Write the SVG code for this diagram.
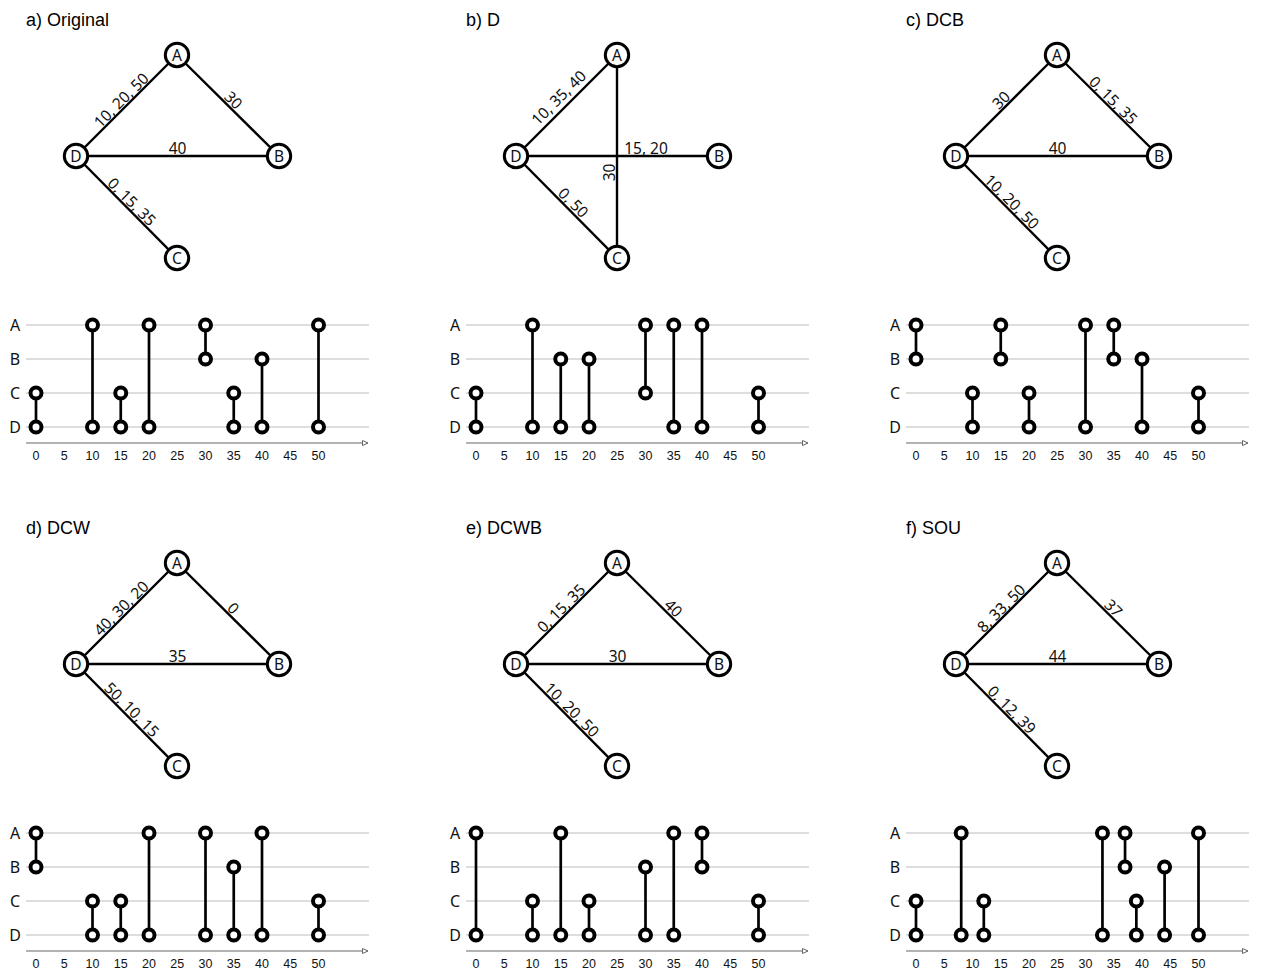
<svg xmlns="http://www.w3.org/2000/svg" width="1262" height="972" viewBox="0 0 1262 972">
<defs>
<style>
.title{font-family:"Liberation Sans",Arial,sans-serif;font-size:18px;fill:#000}
.edge{stroke:#000;stroke-width:2.4;fill:none}
.el{font-family:"Noto Sans","Open Sans",sans-serif;font-size:15.5px;fill:#111;text-anchor:middle}
.node circle{fill:#fff;stroke:#000;stroke-width:3}
.node text{font-family:"Noto Sans","Open Sans",sans-serif;font-size:15.5px;fill:#111;text-anchor:middle}
.row{stroke:#bdbdbd;stroke-width:1}
.rl{font-family:"Noto Sans","Open Sans",sans-serif;font-size:16px;fill:#111;text-anchor:middle}
.axis{stroke:#666;stroke-width:1.2;fill:none}
.tk{font-family:"Liberation Sans",Arial,sans-serif;font-size:12.5px;fill:#111;text-anchor:middle}
.stick{stroke:#000;stroke-width:2.7}
.dot{fill:#fff;stroke:#000;stroke-width:4}
</style>
<marker id="arr" markerWidth="8" markerHeight="8" refX="6" refY="3" orient="auto" markerUnits="userSpaceOnUse">
<path d="M0.5,0.5 L6,3 L0.5,5.5 Z" fill="#fff" stroke="#666" stroke-width="1"/>
</marker>
<g id="tlbase">
<line class="row" x1="26" y1="325" x2="369" y2="325"/>
<line class="row" x1="26" y1="359" x2="369" y2="359"/>
<line class="row" x1="26" y1="393" x2="369" y2="393"/>
<line class="row" x1="26" y1="427" x2="369" y2="427"/>
<text class="rl" x="15" y="331">A</text>
<text class="rl" x="15" y="365">B</text>
<text class="rl" x="15" y="399">C</text>
<text class="rl" x="15" y="433">D</text>
<line class="axis" x1="26" y1="443" x2="368" y2="443" marker-end="url(#arr)"/>
<text class="tk" x="36" y="460">0</text>
<text class="tk" x="64.25" y="460">5</text>
<text class="tk" x="92.5" y="460">10</text>
<text class="tk" x="120.75" y="460">15</text>
<text class="tk" x="149" y="460">20</text>
<text class="tk" x="177.25" y="460">25</text>
<text class="tk" x="205.5" y="460">30</text>
<text class="tk" x="233.75" y="460">35</text>
<text class="tk" x="262" y="460">40</text>
<text class="tk" x="290.25" y="460">45</text>
<text class="tk" x="318.5" y="460">50</text>
</g>
</defs>

<!-- Panel a -->
<g id="panel-a">
<text class="title" x="26" y="26">a) Original</text>
<g id="a-connectors">
<line class="edge" x1="76" y1="156" x2="177" y2="55"/>
<line class="edge" x1="177" y1="55" x2="279" y2="156"/>
<line class="edge" x1="76" y1="156" x2="279" y2="156"/>
<line class="edge" x1="76" y1="156" x2="177" y2="258"/>
<text class="el" transform="translate(126.5,105.5) rotate(-45)" y="-2">10, 20, 50</text>
<text class="el" transform="translate(228,105.5) rotate(45)" y="-2">30</text>
<text class="el" x="177.5" y="154">40</text>
<text class="el" transform="translate(126.5,207) rotate(45)" y="-2">0, 15, 35</text>
</g>
<g id="a-A" class="node"><circle cx="177" cy="55" r="11.7"/><text x="177" y="60.5">A</text></g>
<g id="a-B" class="node"><circle cx="279" cy="156" r="11.7"/><text x="279" y="161.5">B</text></g>
<g id="a-C" class="node"><circle cx="177" cy="258" r="11.7"/><text x="177" y="263.5">C</text></g>
<g id="a-D" class="node"><circle cx="76" cy="156" r="11.7"/><text x="76" y="161.5">D</text></g>
<g id="a-timeline">
<use href="#tlbase"/>
<line class="stick" x1="36" y1="393" x2="36" y2="427"/>
<line class="stick" x1="92.5" y1="325" x2="92.5" y2="427"/>
<line class="stick" x1="120.75" y1="393" x2="120.75" y2="427"/>
<line class="stick" x1="149" y1="325" x2="149" y2="427"/>
<line class="stick" x1="205.5" y1="325" x2="205.5" y2="359"/>
<line class="stick" x1="233.75" y1="393" x2="233.75" y2="427"/>
<line class="stick" x1="262" y1="359" x2="262" y2="427"/>
<line class="stick" x1="318.5" y1="325" x2="318.5" y2="427"/>
<circle class="dot" cx="36" cy="393" r="5.5"/><circle class="dot" cx="36" cy="427" r="5.5"/>
<circle class="dot" cx="92.5" cy="325" r="5.5"/><circle class="dot" cx="92.5" cy="427" r="5.5"/>
<circle class="dot" cx="120.75" cy="393" r="5.5"/><circle class="dot" cx="120.75" cy="427" r="5.5"/>
<circle class="dot" cx="149" cy="325" r="5.5"/><circle class="dot" cx="149" cy="427" r="5.5"/>
<circle class="dot" cx="205.5" cy="325" r="5.5"/><circle class="dot" cx="205.5" cy="359" r="5.5"/>
<circle class="dot" cx="233.75" cy="393" r="5.5"/><circle class="dot" cx="233.75" cy="427" r="5.5"/>
<circle class="dot" cx="262" cy="359" r="5.5"/><circle class="dot" cx="262" cy="427" r="5.5"/>
<circle class="dot" cx="318.5" cy="325" r="5.5"/><circle class="dot" cx="318.5" cy="427" r="5.5"/>
</g>
</g>

<!-- Panel b -->
<g id="panel-b" transform="translate(440,0)">
<text class="title" x="26" y="26">b) D</text>
<g id="b-connectors">
<line class="edge" x1="76" y1="156" x2="177" y2="55"/>
<line class="edge" x1="177" y1="55" x2="177" y2="258"/>
<line class="edge" x1="76" y1="156" x2="279" y2="156"/>
<line class="edge" x1="76" y1="156" x2="177" y2="258"/>
<text class="el" transform="translate(124,103) rotate(-45)" y="-2">10, 35, 40</text>
<text class="el" x="206" y="154">15, 20</text>
<text class="el" transform="translate(177,172.5) rotate(-90)" y="-2">30</text>
<text class="el" transform="translate(128,208) rotate(45)" y="-2">0, 50</text>
</g>
<g id="b-A" class="node"><circle cx="177" cy="55" r="11.7"/><text x="177" y="60.5">A</text></g>
<g id="b-B" class="node"><circle cx="279" cy="156" r="11.7"/><text x="279" y="161.5">B</text></g>
<g id="b-C" class="node"><circle cx="177" cy="258" r="11.7"/><text x="177" y="263.5">C</text></g>
<g id="b-D" class="node"><circle cx="76" cy="156" r="11.7"/><text x="76" y="161.5">D</text></g>
<g id="b-timeline">
<use href="#tlbase"/>
<line class="stick" x1="36" y1="393" x2="36" y2="427"/>
<line class="stick" x1="92.5" y1="325" x2="92.5" y2="427"/>
<line class="stick" x1="120.75" y1="359" x2="120.75" y2="427"/>
<line class="stick" x1="149" y1="359" x2="149" y2="427"/>
<line class="stick" x1="205.5" y1="325" x2="205.5" y2="393"/>
<line class="stick" x1="233.75" y1="325" x2="233.75" y2="427"/>
<line class="stick" x1="262" y1="325" x2="262" y2="427"/>
<line class="stick" x1="318.5" y1="393" x2="318.5" y2="427"/>
<circle class="dot" cx="36" cy="393" r="5.5"/><circle class="dot" cx="36" cy="427" r="5.5"/>
<circle class="dot" cx="92.5" cy="325" r="5.5"/><circle class="dot" cx="92.5" cy="427" r="5.5"/>
<circle class="dot" cx="120.75" cy="359" r="5.5"/><circle class="dot" cx="120.75" cy="427" r="5.5"/>
<circle class="dot" cx="149" cy="359" r="5.5"/><circle class="dot" cx="149" cy="427" r="5.5"/>
<circle class="dot" cx="205.5" cy="325" r="5.5"/><circle class="dot" cx="205.5" cy="393" r="5.5"/>
<circle class="dot" cx="233.75" cy="325" r="5.5"/><circle class="dot" cx="233.75" cy="427" r="5.5"/>
<circle class="dot" cx="262" cy="325" r="5.5"/><circle class="dot" cx="262" cy="427" r="5.5"/>
<circle class="dot" cx="318.5" cy="393" r="5.5"/><circle class="dot" cx="318.5" cy="427" r="5.5"/>
</g>
</g>

<!-- Panel c -->
<g id="panel-c" transform="translate(880,0)">
<text class="title" x="26" y="26">c) DCB</text>
<g id="c-connectors">
<line class="edge" x1="76" y1="156" x2="177" y2="55"/>
<line class="edge" x1="177" y1="55" x2="279" y2="156"/>
<line class="edge" x1="76" y1="156" x2="279" y2="156"/>
<line class="edge" x1="76" y1="156" x2="177" y2="258"/>
<text class="el" transform="translate(126.5,105.5) rotate(-45)" y="-2">30</text>
<text class="el" transform="translate(228,105.5) rotate(45)" y="-2">0, 15, 35</text>
<text class="el" x="177.5" y="154">40</text>
<text class="el" transform="translate(126.5,207) rotate(45)" y="-2">10, 20, 50</text>
</g>
<g id="c-A" class="node"><circle cx="177" cy="55" r="11.7"/><text x="177" y="60.5">A</text></g>
<g id="c-B" class="node"><circle cx="279" cy="156" r="11.7"/><text x="279" y="161.5">B</text></g>
<g id="c-C" class="node"><circle cx="177" cy="258" r="11.7"/><text x="177" y="263.5">C</text></g>
<g id="c-D" class="node"><circle cx="76" cy="156" r="11.7"/><text x="76" y="161.5">D</text></g>
<g id="c-timeline">
<use href="#tlbase"/>
<line class="stick" x1="36" y1="325" x2="36" y2="359"/>
<line class="stick" x1="92.5" y1="393" x2="92.5" y2="427"/>
<line class="stick" x1="120.75" y1="325" x2="120.75" y2="359"/>
<line class="stick" x1="149" y1="393" x2="149" y2="427"/>
<line class="stick" x1="205.5" y1="325" x2="205.5" y2="427"/>
<line class="stick" x1="233.75" y1="325" x2="233.75" y2="359"/>
<line class="stick" x1="262" y1="359" x2="262" y2="427"/>
<line class="stick" x1="318.5" y1="393" x2="318.5" y2="427"/>
<circle class="dot" cx="36" cy="325" r="5.5"/><circle class="dot" cx="36" cy="359" r="5.5"/>
<circle class="dot" cx="92.5" cy="393" r="5.5"/><circle class="dot" cx="92.5" cy="427" r="5.5"/>
<circle class="dot" cx="120.75" cy="325" r="5.5"/><circle class="dot" cx="120.75" cy="359" r="5.5"/>
<circle class="dot" cx="149" cy="393" r="5.5"/><circle class="dot" cx="149" cy="427" r="5.5"/>
<circle class="dot" cx="205.5" cy="325" r="5.5"/><circle class="dot" cx="205.5" cy="427" r="5.5"/>
<circle class="dot" cx="233.75" cy="325" r="5.5"/><circle class="dot" cx="233.75" cy="359" r="5.5"/>
<circle class="dot" cx="262" cy="359" r="5.5"/><circle class="dot" cx="262" cy="427" r="5.5"/>
<circle class="dot" cx="318.5" cy="393" r="5.5"/><circle class="dot" cx="318.5" cy="427" r="5.5"/>
</g>
</g>

<!-- Panel d -->
<g id="panel-d" transform="translate(0,508)">
<text class="title" x="26" y="26">d) DCW</text>
<g id="d-connectors">
<line class="edge" x1="76" y1="156" x2="177" y2="55"/>
<line class="edge" x1="177" y1="55" x2="279" y2="156"/>
<line class="edge" x1="76" y1="156" x2="279" y2="156"/>
<line class="edge" x1="76" y1="156" x2="177" y2="258"/>
<text class="el" transform="translate(126.5,105.5) rotate(-45)" y="-2">40, 30, 20</text>
<text class="el" transform="translate(228,105.5) rotate(45)" y="-2">0</text>
<text class="el" x="177.5" y="154">35</text>
<text class="el" transform="translate(126.5,207) rotate(45)" y="-2">50, 10, 15</text>
</g>
<g id="d-A" class="node"><circle cx="177" cy="55" r="11.7"/><text x="177" y="60.5">A</text></g>
<g id="d-B" class="node"><circle cx="279" cy="156" r="11.7"/><text x="279" y="161.5">B</text></g>
<g id="d-C" class="node"><circle cx="177" cy="258" r="11.7"/><text x="177" y="263.5">C</text></g>
<g id="d-D" class="node"><circle cx="76" cy="156" r="11.7"/><text x="76" y="161.5">D</text></g>
<g id="d-timeline">
<use href="#tlbase"/>
<line class="stick" x1="36" y1="325" x2="36" y2="359"/>
<line class="stick" x1="92.5" y1="393" x2="92.5" y2="427"/>
<line class="stick" x1="120.75" y1="393" x2="120.75" y2="427"/>
<line class="stick" x1="149" y1="325" x2="149" y2="427"/>
<line class="stick" x1="205.5" y1="325" x2="205.5" y2="427"/>
<line class="stick" x1="233.75" y1="359" x2="233.75" y2="427"/>
<line class="stick" x1="262" y1="325" x2="262" y2="427"/>
<line class="stick" x1="318.5" y1="393" x2="318.5" y2="427"/>
<circle class="dot" cx="36" cy="325" r="5.5"/><circle class="dot" cx="36" cy="359" r="5.5"/>
<circle class="dot" cx="92.5" cy="393" r="5.5"/><circle class="dot" cx="92.5" cy="427" r="5.5"/>
<circle class="dot" cx="120.75" cy="393" r="5.5"/><circle class="dot" cx="120.75" cy="427" r="5.5"/>
<circle class="dot" cx="149" cy="325" r="5.5"/><circle class="dot" cx="149" cy="427" r="5.5"/>
<circle class="dot" cx="205.5" cy="325" r="5.5"/><circle class="dot" cx="205.5" cy="427" r="5.5"/>
<circle class="dot" cx="233.75" cy="359" r="5.5"/><circle class="dot" cx="233.75" cy="427" r="5.5"/>
<circle class="dot" cx="262" cy="325" r="5.5"/><circle class="dot" cx="262" cy="427" r="5.5"/>
<circle class="dot" cx="318.5" cy="393" r="5.5"/><circle class="dot" cx="318.5" cy="427" r="5.5"/>
</g>
</g>

<!-- Panel e -->
<g id="panel-e" transform="translate(440,508)">
<text class="title" x="26" y="26">e) DCWB</text>
<g id="e-connectors">
<line class="edge" x1="76" y1="156" x2="177" y2="55"/>
<line class="edge" x1="177" y1="55" x2="279" y2="156"/>
<line class="edge" x1="76" y1="156" x2="279" y2="156"/>
<line class="edge" x1="76" y1="156" x2="177" y2="258"/>
<text class="el" transform="translate(126.5,105.5) rotate(-45)" y="-2">0, 15, 35</text>
<text class="el" transform="translate(228,105.5) rotate(45)" y="-2">40</text>
<text class="el" x="177.5" y="154">30</text>
<text class="el" transform="translate(126.5,207) rotate(45)" y="-2">10, 20, 50</text>
</g>
<g id="e-A" class="node"><circle cx="177" cy="55" r="11.7"/><text x="177" y="60.5">A</text></g>
<g id="e-B" class="node"><circle cx="279" cy="156" r="11.7"/><text x="279" y="161.5">B</text></g>
<g id="e-C" class="node"><circle cx="177" cy="258" r="11.7"/><text x="177" y="263.5">C</text></g>
<g id="e-D" class="node"><circle cx="76" cy="156" r="11.7"/><text x="76" y="161.5">D</text></g>
<g id="e-timeline">
<use href="#tlbase"/>
<line class="stick" x1="36" y1="325" x2="36" y2="427"/>
<line class="stick" x1="92.5" y1="393" x2="92.5" y2="427"/>
<line class="stick" x1="120.75" y1="325" x2="120.75" y2="427"/>
<line class="stick" x1="149" y1="393" x2="149" y2="427"/>
<line class="stick" x1="205.5" y1="359" x2="205.5" y2="427"/>
<line class="stick" x1="233.75" y1="325" x2="233.75" y2="427"/>
<line class="stick" x1="262" y1="325" x2="262" y2="359"/>
<line class="stick" x1="318.5" y1="393" x2="318.5" y2="427"/>
<circle class="dot" cx="36" cy="325" r="5.5"/><circle class="dot" cx="36" cy="427" r="5.5"/>
<circle class="dot" cx="92.5" cy="393" r="5.5"/><circle class="dot" cx="92.5" cy="427" r="5.5"/>
<circle class="dot" cx="120.75" cy="325" r="5.5"/><circle class="dot" cx="120.75" cy="427" r="5.5"/>
<circle class="dot" cx="149" cy="393" r="5.5"/><circle class="dot" cx="149" cy="427" r="5.5"/>
<circle class="dot" cx="205.5" cy="359" r="5.5"/><circle class="dot" cx="205.5" cy="427" r="5.5"/>
<circle class="dot" cx="233.75" cy="325" r="5.5"/><circle class="dot" cx="233.75" cy="427" r="5.5"/>
<circle class="dot" cx="262" cy="325" r="5.5"/><circle class="dot" cx="262" cy="359" r="5.5"/>
<circle class="dot" cx="318.5" cy="393" r="5.5"/><circle class="dot" cx="318.5" cy="427" r="5.5"/>
</g>
</g>

<!-- Panel f -->
<g id="panel-f" transform="translate(880,508)">
<text class="title" x="26" y="26">f) SOU</text>
<g id="f-connectors">
<line class="edge" x1="76" y1="156" x2="177" y2="55"/>
<line class="edge" x1="177" y1="55" x2="279" y2="156"/>
<line class="edge" x1="76" y1="156" x2="279" y2="156"/>
<line class="edge" x1="76" y1="156" x2="177" y2="258"/>
<text class="el" transform="translate(126.5,105.5) rotate(-45)" y="-2">8, 33, 50</text>
<text class="el" transform="translate(228,105.5) rotate(45)" y="-2">37</text>
<text class="el" x="177.5" y="154">44</text>
<text class="el" transform="translate(126.5,207) rotate(45)" y="-2">0, 12, 39</text>
</g>
<g id="f-A" class="node"><circle cx="177" cy="55" r="11.7"/><text x="177" y="60.5">A</text></g>
<g id="f-B" class="node"><circle cx="279" cy="156" r="11.7"/><text x="279" y="161.5">B</text></g>
<g id="f-C" class="node"><circle cx="177" cy="258" r="11.7"/><text x="177" y="263.5">C</text></g>
<g id="f-D" class="node"><circle cx="76" cy="156" r="11.7"/><text x="76" y="161.5">D</text></g>
<g id="f-timeline">
<use href="#tlbase"/>
<line class="stick" x1="36" y1="393" x2="36" y2="427"/>
<line class="stick" x1="81.2" y1="325" x2="81.2" y2="427"/>
<line class="stick" x1="103.8" y1="393" x2="103.8" y2="427"/>
<line class="stick" x1="222.45" y1="325" x2="222.45" y2="427"/>
<line class="stick" x1="245.05" y1="325" x2="245.05" y2="359"/>
<line class="stick" x1="256.35" y1="393" x2="256.35" y2="427"/>
<line class="stick" x1="284.6" y1="359" x2="284.6" y2="427"/>
<line class="stick" x1="318.5" y1="325" x2="318.5" y2="427"/>
<circle class="dot" cx="36" cy="393" r="5.5"/><circle class="dot" cx="36" cy="427" r="5.5"/>
<circle class="dot" cx="81.2" cy="325" r="5.5"/><circle class="dot" cx="81.2" cy="427" r="5.5"/>
<circle class="dot" cx="103.8" cy="393" r="5.5"/><circle class="dot" cx="103.8" cy="427" r="5.5"/>
<circle class="dot" cx="222.45" cy="325" r="5.5"/><circle class="dot" cx="222.45" cy="427" r="5.5"/>
<circle class="dot" cx="245.05" cy="325" r="5.5"/><circle class="dot" cx="245.05" cy="359" r="5.5"/>
<circle class="dot" cx="256.35" cy="393" r="5.5"/><circle class="dot" cx="256.35" cy="427" r="5.5"/>
<circle class="dot" cx="284.6" cy="359" r="5.5"/><circle class="dot" cx="284.6" cy="427" r="5.5"/>
<circle class="dot" cx="318.5" cy="325" r="5.5"/><circle class="dot" cx="318.5" cy="427" r="5.5"/>
</g>
</g>
</svg>
